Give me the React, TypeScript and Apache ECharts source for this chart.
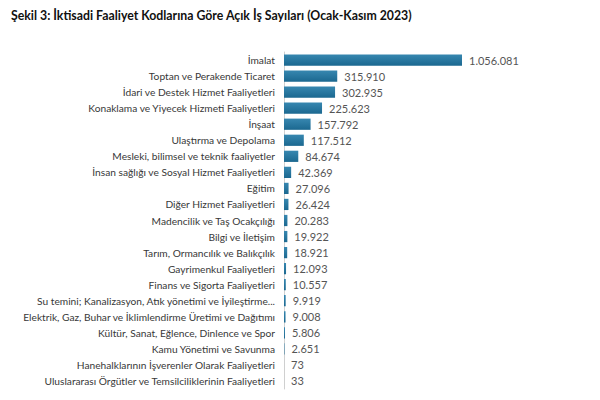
import React, { useEffect, useRef } from 'react'
import * as echarts from 'echarts'

const title = 'Şekil 3: İktisadi Faaliyet Kodlarına Göre Açık İş Sayıları (Ocak-Kasım 2023)'

const categories = [
  'İmalat',
  'Toptan ve Perakende Ticaret',
  'İdari ve Destek Hizmet Faaliyetleri',
  'Konaklama ve Yiyecek Hizmeti Faaliyetleri',
  'İnşaat',
  'Ulaştırma ve Depolama',
  'Mesleki, bilimsel ve teknik faaliyetler',
  'İnsan sağlığı ve Sosyal Hizmet Faaliyetleri',
  'Eğitim',
  'Diğer Hizmet Faaliyetleri',
  'Madencilik ve Taş Ocakçılığı',
  'Bilgi ve İletişim',
  'Tarım, Ormancılık ve Balıkçılık',
  'Gayrimenkul Faaliyetleri',
  'Finans ve Sigorta Faaliyetleri',
  'Su temini; Kanalizasyon, Atık yönetimi ve İyileştirme...',
  'Elektrik, Gaz, Buhar ve İklimlendirme Üretimi ve Dağıtımı',
  'Kültür, Sanat, Eğlence, Dinlence ve Spor',
  'Kamu Yönetimi ve Savunma',
  'Hanehalklarının İşverenler Olarak Faaliyetleri',
  'Uluslararası Örgütler ve Temsilciliklerinin Faaliyetleri',
]

const values = [
  1056081, 315910, 302935, 225623, 157792, 117512, 84674, 42369, 27096, 26424,
  20283, 19922, 18921, 12093, 10557, 9919, 9008, 5806, 2651, 73, 33,
]

// Türkçe binlik ayırıcı: 1.056.081
const fmt = (v: number) => String(v).replace(/\B(?=(\d{3})+(?!\d))/g, '.')

const App = () => {
  const chartRef = useRef<HTMLDivElement>(null)

  useEffect(() => {
    const chart = echarts.init(chartRef.current!, null, { renderer: 'svg' })
    chart.setOption({
      animation: false,
      backgroundColor: '#ffffff',
      textStyle: { fontFamily: 'Lato' },
      title: {
        text: title,
        left: 6,
        top: 4,
        textStyle: { fontFamily: 'Lato', fontSize: 12.3, fontWeight: 'bold', color: '#111111' },
      },
      grid: { left: 284, right: 138, top: 52, bottom: 11 },
      xAxis: {
        type: 'value',
        min: 0,
        max: 'dataMax',
        show: false,
      },
      yAxis: {
        type: 'category',
        data: categories,
        inverse: true,
        axisLine: { show: true, lineStyle: { color: '#d0d0d0', width: 1 } },
        axisTick: { show: false },
        axisLabel: { color: '#383838', fontSize: 10.2, margin: 9, fontFamily: 'Lato' },
      },
      series: [
        {
          type: 'bar',
          data: values,
          barWidth: '70%',
          itemStyle: {
            color: new echarts.graphic.LinearGradient(0, 0, 0, 1, [
              { offset: 0, color: '#3787b0' },
              { offset: 1, color: '#1b6890' },
            ]),
          },
          label: {
            show: true,
            position: 'right',
            distance: 7,
            color: '#555555',
            fontSize: 11,
            fontFamily: 'Lato',
            formatter: (p: any) => fmt(p.value),
          },
        },
      ],
    })
    return () => {
      chart.dispose()
    }
  }, [])

  return (
    <div
      ref={chartRef}
      style={{ position: 'fixed', left: 0, top: 0, width: '600px', height: '400px' }}
    ></div>
  )
}

export default App
